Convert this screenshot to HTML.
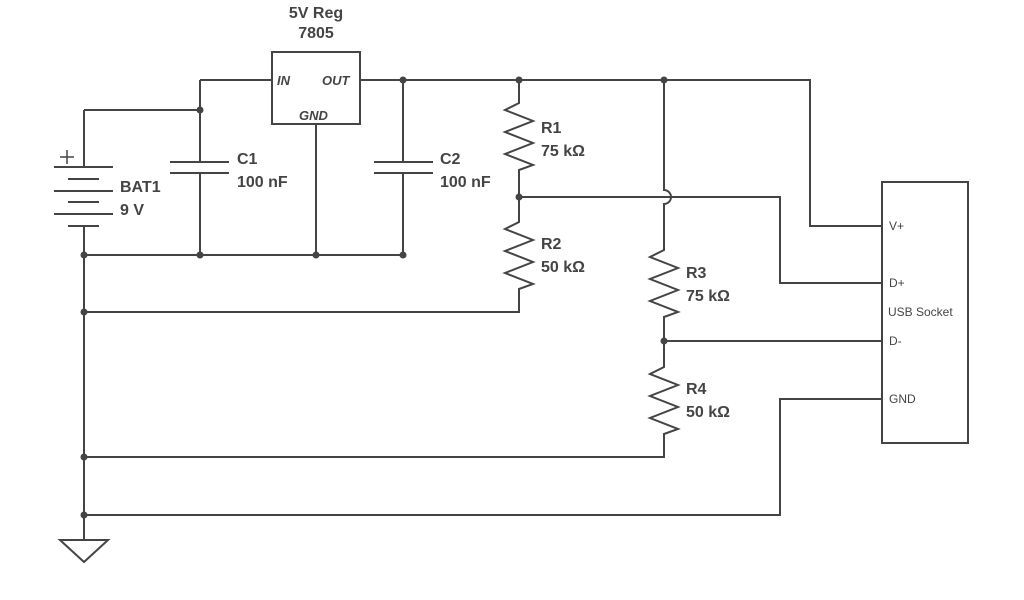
<!DOCTYPE html>
<html><head><meta charset="utf-8"><style>
html,body{margin:0;padding:0;background:#fff;}
svg{display:block;}
text{font-family:"Liberation Sans",sans-serif;fill:#444;}
.b{font-weight:bold;font-size:16px;}
.s{font-size:12px;}
.i{font-style:italic;font-weight:bold;font-size:13px;}
</style></head><body>
<svg width="1024" height="600" viewBox="0 0 1024 600" xmlns="http://www.w3.org/2000/svg">
<g stroke="#444" stroke-width="2" fill="none">
<rect x="272" y="52" width="88" height="72"/>
<path d="M200 80H272 M200 80V255 M84 110H200 M84 110V167 M84 226V540"/>
<path d="M360 80H810V226H882"/>
<path d="M316 124V255 M84 255H403 M403 80V255"/>
<path d="M60 157H74 M67 150V164" stroke-width="1.5"/>
<path d="M519 80V103 L505 110 L533 121 L505 132 L533 143 L505 154 L533 165 L519 170 V222 L505 229 L533 240 L505 251 L533 262 L505 273 L533 284 L519 289 V312 H84"/>
<path d="M519 197H780V283H882"/>
<path d="M664 80V190 A7 7 0 0 1 664 204 V250 L650 257 L678 268 L650 279 L678 290 L650 301 L678 312 L664 317 V367 L650 374 L678 385 L650 396 L678 407 L650 418 L678 429 L664 434 V457 H84"/>
<path d="M664 341H882"/>
<path d="M882 399H780V515H84"/>
<rect x="882" y="182" width="86" height="261"/>
<path d="M60 540H108L84 562Z"/>
</g>
<rect x="170" y="163" width="59" height="9" fill="#fff"/>
<rect x="374" y="163" width="59" height="9" fill="#fff"/>
<rect x="75" y="168" width="18" height="57" fill="#fff"/>
<g stroke="#444" stroke-width="2">
<path d="M54 167H113 M68 179H99 M54 191H113 M68 202H99 M54 214H113 M68 226H99 M170 162H229 M170 173H229 M374 162H433 M374 173H433"/>
</g>
<g fill="#444">
<circle cx="200" cy="110" r="3.5"/><circle cx="403" cy="80" r="3.5"/>
<circle cx="519" cy="80" r="3.5"/><circle cx="664" cy="80" r="3.5"/>
<circle cx="519" cy="197" r="3.5"/><circle cx="664" cy="341" r="3.5"/>
<circle cx="84" cy="255" r="3.5"/><circle cx="200" cy="255" r="3.5"/>
<circle cx="316" cy="255" r="3.5"/><circle cx="403" cy="255" r="3.5"/>
<circle cx="84" cy="312" r="3.5"/><circle cx="84" cy="457" r="3.5"/>
<circle cx="84" cy="515" r="3.5"/>
</g>
<text class="b" x="316" y="18" text-anchor="middle">5V Reg</text>
<text class="b" x="316" y="38" text-anchor="middle">7805</text>
<text class="i" x="277" y="85">IN</text>
<text class="i" x="322" y="85">OUT</text>
<text class="i" x="299" y="120">GND</text>
<text class="b" x="237" y="164">C1</text>
<text class="b" x="237" y="187">100 nF</text>
<text class="b" x="440" y="164">C2</text>
<text class="b" x="440" y="187">100 nF</text>
<text class="b" x="120" y="192">BAT1</text>
<text class="b" x="120" y="215">9 V</text>
<text class="b" x="541" y="133">R1</text>
<text class="b" x="541" y="156">75 kΩ</text>
<text class="b" x="541" y="249">R2</text>
<text class="b" x="541" y="272">50 kΩ</text>
<text class="b" x="686" y="278">R3</text>
<text class="b" x="686" y="301">75 kΩ</text>
<text class="b" x="686" y="394">R4</text>
<text class="b" x="686" y="417">50 kΩ</text>
<text class="s" x="889" y="230">V+</text>
<text class="s" x="889" y="287">D+</text>
<text class="s" x="888" y="316">USB Socket</text>
<text class="s" x="889" y="345">D-</text>
<text class="s" x="889" y="403">GND</text>
</svg>
</body></html>
